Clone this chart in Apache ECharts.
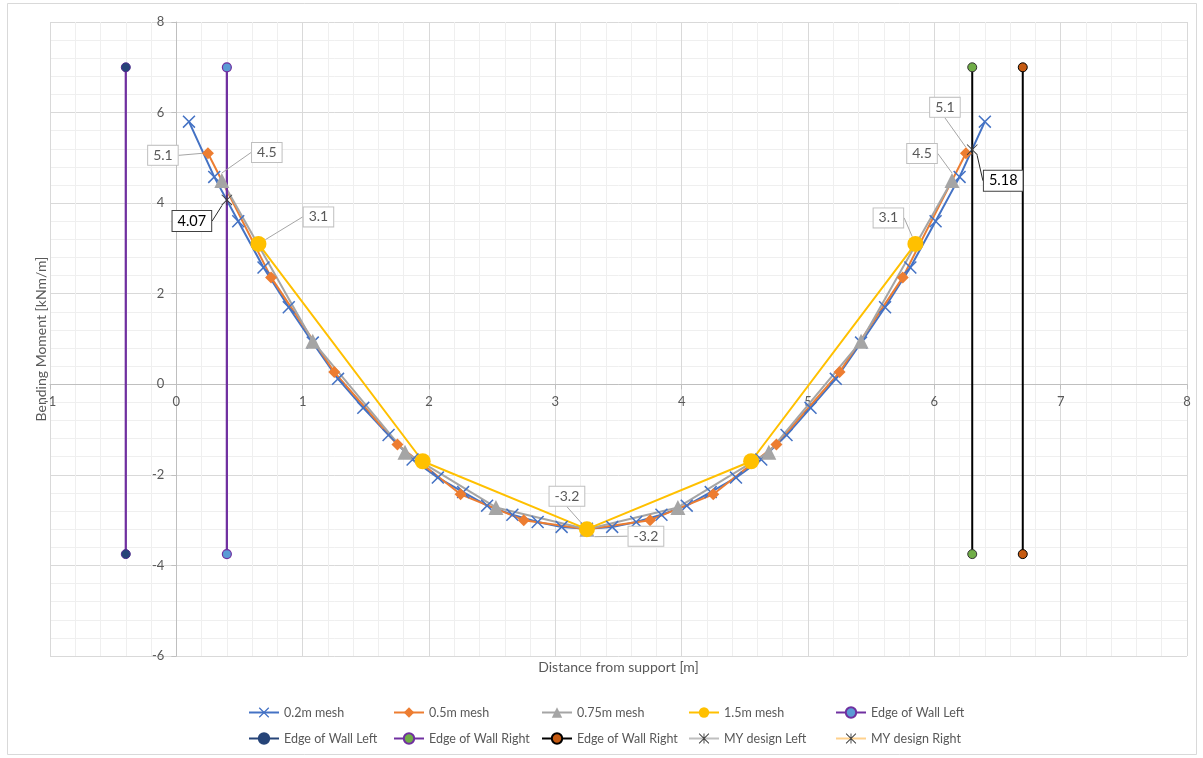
<!DOCTYPE html>
<html><head><meta charset="utf-8">
<script src="https://cdn.jsdelivr.net/npm/echarts@6/dist/echarts.min.js"></script>
<style>html,body{margin:0;padding:0;background:#fff}#c{width:1203px;height:758px}</style>
</head><body><div id="c"></div>
<script>
// ---------- data ----------
const xMesh02 = [0.10, 0.30, 0.49, 0.69, 0.89, 1.08, 1.28, 1.48, 1.68, 1.87, 2.07, 2.27, 2.46, 2.66, 2.86, 3.05, 3.25, 3.45, 3.64, 3.84, 4.04, 4.23, 4.43, 4.63, 4.83, 5.02, 5.22, 5.42, 5.61, 5.81, 6.01, 6.20, 6.40];
const yMesh02 = [5.80, 4.58, 3.60, 2.58, 1.70, 0.92, 0.12, -0.52, -1.12, -1.66, -2.06, -2.38, -2.68, -2.88, -3.04, -3.15, -3.19, -3.15, -3.04, -2.88, -2.68, -2.38, -2.06, -1.66, -1.12, -0.52, 0.12, 0.92, 1.70, 2.58, 3.60, 4.58, 5.80];
const xMesh05 = [0.25, 0.75, 1.25, 1.75, 2.25, 2.75, 3.25, 3.75, 4.25, 4.75, 5.25, 5.75, 6.25];
const yMesh05 = [5.1, 2.36, 0.27, -1.33, -2.43, -3.0, -3.2, -3.0, -2.43, -1.33, 0.27, 2.36, 5.1];
const xMesh075 = [0.36, 1.08, 1.81, 2.53, 3.25, 3.97, 4.69, 5.42, 6.14];
const yMesh075 = [4.5, 0.95, -1.5, -2.72, -3.2, -2.72, -1.5, 0.95, 4.5];
const xMesh15 = [0.65, 1.95, 3.25, 4.55, 5.85];
const yMesh15 = [3.1, -1.7, -3.2, -1.7, 3.1];
const wallY = [7, -3.75];
const wallLeftInnerX = [0.4, 0.4];
const wallLeftOuterX = [-0.4, -0.4];
const wallRightInnerX = [6.3, 6.3];
const wallRightOuterX = [6.7, 6.7];
const designLeftX = [0.4], designLeftY = [4.07];
const designRightX = [6.3], designRightY = [5.18];
const xTicks = {min: -1, max: 8, interval: 1};
const yTicks = {min: -6, max: 8, interval: 2};

// labelled points (index -> offset of label centre from point, px)
const lab05 = {0: [-45, 2], 12: [-21, -46]};
const lab075 = {0: [45, -28], 8: [-30, -27], 4: [59, 7]};
const lab15 = {0: [60, -27], 4: [-27, -26], 2: [-20, -33]};
const labDL = {0: [-35, 21]};
const labDR = {0: [31, 31]};

// ---------- styles ----------
const FONT = 'Lato';
const CROSS = 'path://M0.9,-0.9L20.9,19.1L19.1,20.9L-0.9,0.9ZM19.1,-0.9L20.9,0.9L0.9,20.9L-0.9,19.1Z';
const STAR = 'path://M9.1,0L10.9,0L10.9,20L9.1,20ZM0.6,-0.6L20.6,19.4L19.4,20.6L-0.6,0.6ZM19.4,-0.6L20.6,0.6L0.6,20.6L-0.6,19.4Z';

function pts(xs, ys, labs, lblStyle) {
  return xs.map((x, i) => {
    const item = {value: [x, ys[i]]};
    if (labs && labs[i]) item.label = Object.assign({show: true}, lblStyle);
    return item;
  });
}
const grayLbl = {position: 'inside', color: '#595959', fontSize: 14, fontFamily: FONT,
  backgroundColor: '#fff', borderColor: '#BFBFBF', borderWidth: 1, padding: [3, 5, 2, 5],
  formatter: p => String(p.value[1])};
const blackLbl = Object.assign({}, grayLbl, {color: '#000', borderColor: '#404040', fontSize: 14.5});

function layoutFrom(offs) {
  return function (p) {
    const o = offs[p.dataIndex];
    if (!o) return {};
    return {x: p.rect.x + p.rect.width / 2 + o[0], y: p.rect.y + p.rect.height / 2 + o[1], align: 'center', verticalAlign: 'middle'};
  };
}

function lineSeries(name, xs, ys, opt) {
  return {
    name: name, type: 'line', data: pts(xs, ys, opt.labs, opt.lbl || grayLbl),
    symbol: opt.symbol, symbolSize: opt.size, showAllSymbol: true,
    lineStyle: {color: opt.line, width: opt.width || 2},
    itemStyle: opt.item,
    label: {show: false},
    labelLayout: opt.labs ? layoutFrom(opt.labs) : undefined,
    labelLine: {show: true, lineStyle: {color: opt.leader || '#A6A6A6', width: 1}},
    emphasis: {disabled: true}, z: opt.z || 2, animation: false
  };
}

const series = [
  lineSeries('0.2m mesh', xMesh02, yMesh02, {symbol: CROSS, size: 13, line: '#4472C4', item: {color: '#4472C4'}}),
  lineSeries('0.5m mesh', xMesh05, yMesh05, {symbol: 'diamond', size: 12, line: '#ED7D31', item: {color: '#ED7D31'}, labs: lab05}),
  lineSeries('0.75m mesh', xMesh075, yMesh075, {symbol: 'triangle', size: 15, line: '#A5A5A5', item: {color: '#A5A5A5'}, labs: lab075}),
  lineSeries('1.5m mesh', xMesh15, yMesh15, {symbol: 'circle', size: 16, line: '#FFC000', item: {color: '#FFC000'}, labs: lab15}),
  lineSeries('Edge of Wall Left 1', wallLeftInnerX, wallY, {symbol: 'circle', size: 9, line: '#7030A0', width: 2.25, item: {color: '#5B9BD5', borderColor: '#7030A0', borderWidth: 1.2}}),
  lineSeries('Edge of Wall Left 2', wallLeftOuterX, wallY, {symbol: 'circle', size: 9, line: '#7030A0', width: 2.25, item: {color: '#264478', borderColor: '#4B2A8C', borderWidth: 1}}),
  lineSeries('Edge of Wall Right 1', wallRightInnerX, wallY, {symbol: 'circle', size: 9, line: '#000000', width: 2, item: {color: '#70AD47', borderColor: '#333', borderWidth: 1}}),
  lineSeries('Edge of Wall Right 2', wallRightOuterX, wallY, {symbol: 'circle', size: 9, line: '#000000', width: 2, item: {color: '#C55A11', borderColor: '#000', borderWidth: 1}}),
  lineSeries('MY design Left', designLeftX, designLeftY, {symbol: STAR, size: 11, line: '#BFBFBF', item: {color: '#3A3A3A'}, labs: labDL, lbl: blackLbl, leader: '#262626', z: 5}),
  lineSeries('MY design Right', designRightX, designRightY, {symbol: STAR, size: 11, line: '#FFD18C', item: {color: '#3A3A3A'}, labs: labDR, lbl: blackLbl, leader: '#262626', z: 5})
];

const legendCols = [
  [248, ['0.2m mesh', {name: 'Edge of Wall Left 2', lineStyle: {color: '#264478'}, itemStyle: {color: '#264478', borderColor: '#264478'}}]],
  [393, ['0.5m mesh', {name: 'Edge of Wall Right 1', lineStyle: {color: '#7030A0'}, itemStyle: {color: '#70AD47', borderColor: '#7030A0'}}]],
  [541, ['0.75m mesh', {name: 'Edge of Wall Right 2', lineStyle: {color: '#000'}, itemStyle: {color: '#C55A11', borderColor: '#000'}}]],
  [688, ['1.5m mesh', 'MY design Left']],
  [835, ['Edge of Wall Left 1', 'MY design Right']]
];
const legends = legendCols.map(c => ({
  left: c[0], top: 706, padding: 0, orient: 'vertical', itemGap: 13, itemWidth: 30, itemHeight: 13,
  selectedMode: false, data: c[1],
  formatter: n => n.replace(/ [12]$/, ''),
  textStyle: {color: '#595959', fontSize: 12.5, fontFamily: FONT}
}));

const axisCommon = {
  type: 'value',
  axisLine: {show: true, onZero: false, lineStyle: {color: '#BFBFBF', width: 1}},
  axisTick: {show: true, length: 5, lineStyle: {color: '#BFBFBF'}},
  axisLabel: {color: '#595959', fontSize: 13, fontFamily: FONT},
  splitLine: {show: true, lineStyle: {color: '#D9D9D9', width: 1}},
  minorTick: {show: false, splitNumber: 5},
  minorSplitLine: {show: true, lineStyle: {color: '#EFEFEF', width: 1}},
  nameLocation: 'middle',
  nameTextStyle: {color: '#595959', fontSize: 14, fontFamily: FONT}
};

const option = {
  backgroundColor: '#fff',
  animation: false,
  grid: {left: 50, right: 16, top: 22, bottom: 102, containLabel: false, outerBoundsMode: 'none'},
  xAxis: Object.assign({}, axisCommon, {min: xTicks.min, max: xTicks.max, interval: xTicks.interval,
    name: 'Distance from support [m]', nameGap: 276,
    axisLabel: Object.assign({}, axisCommon.axisLabel, {margin: 11})}),
  yAxis: Object.assign({}, axisCommon, {min: yTicks.min, max: yTicks.max, interval: yTicks.interval,
    name: 'Bending Moment [kNm/m]', nameGap: 128, nameRotate: 90,
    axisLabel: Object.assign({}, axisCommon.axisLabel, {margin: 12})}),
  legend: legends,
  series: series,
  graphic: [{type: 'rect', silent: true, z: -10, shape: {x: 7.5, y: 3.5, width: 1189, height: 751}, style: {fill: 'none', stroke: '#D9D9D9', lineWidth: 1}}]
};

const chart = echarts.init(document.getElementById('c'), null, {renderer: 'canvas'});
chart.setOption(option);
// move both axes onto the other axis' zero, using the library's own scales
const px0 = chart.convertToPixel({xAxisIndex: 0}, 0);
const pxMin = chart.convertToPixel({xAxisIndex: 0}, xTicks.min);
const py0 = chart.convertToPixel({yAxisIndex: 0}, 0);
const pyMin = chart.convertToPixel({yAxisIndex: 0}, yTicks.min);
chart.setOption({
  xAxis: {offset: -(pyMin - py0), nameGap: (pyMin - py0) + 4},
  yAxis: {offset: -(px0 - pxMin), nameGap: (px0 - pxMin) + 2}
});
</script>
</body></html>
